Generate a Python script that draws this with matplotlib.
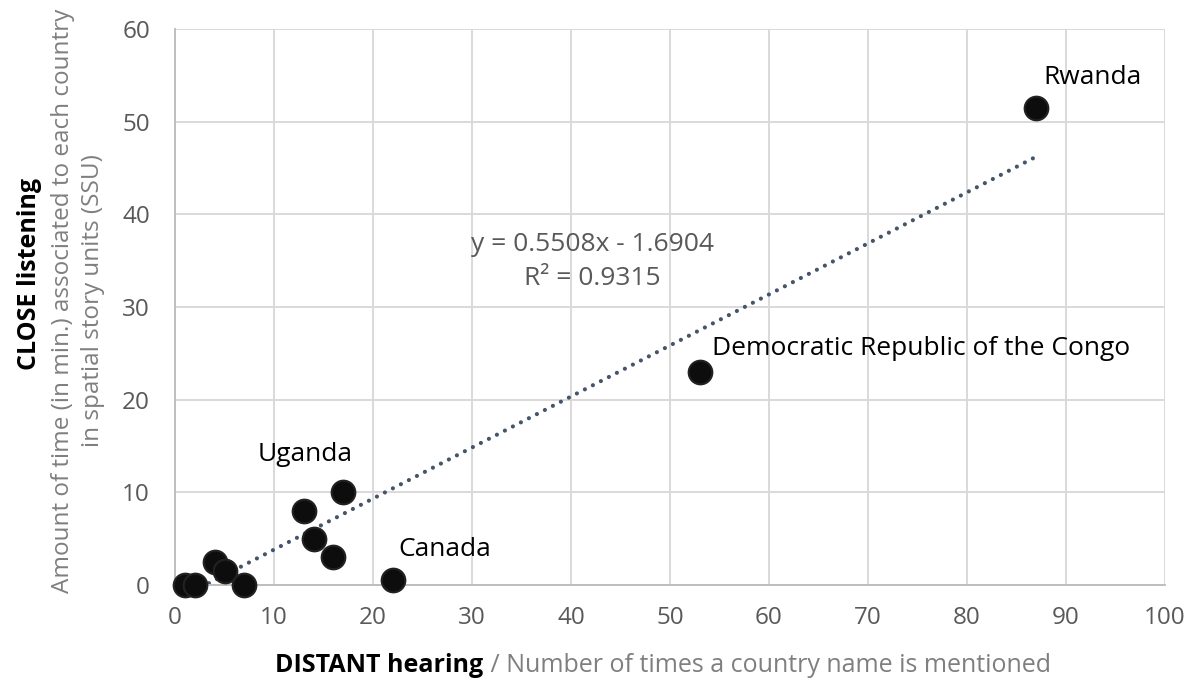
import matplotlib
matplotlib.use("Agg")
import matplotlib.pyplot as plt
import numpy as np

# ---- data ----
distant_hearing = [87, 53, 17, 13, 14, 16, 22, 4, 5, 7, 1, 2]
close_listening = [51.5, 23, 10, 8, 5, 3, 0.5, 2.5, 1.5, 0, 0, 0]

label_names = ["Rwanda", "Democratic Republic of the Congo", "Uganda", "Canada"]
label_x = [87, 53, 17, 22]
label_y = [51.5, 23, 10, 0.5]

trend_slope = 0.5508
trend_intercept = -1.6904
trend_r2 = 0.9315

x_ticks = list(range(0, 101, 10))
y_ticks = list(range(0, 61, 10))

# ---- figure ----
FONT = "Open Sans"
plt.rcParams['font.family'] = [FONT, 'DejaVu Sans']

fig = plt.figure(figsize=(11.85, 6.82), dpi=100)
ax = fig.add_axes([175/1185, 1-585/682, (1165-175)/1185, (585-29)/682])

ax.set_xlim(0, 100)
ax.set_ylim(0, 60)
ax.set_xticks(x_ticks)
ax.set_yticks(y_ticks)
ax.tick_params(length=0, labelsize=17.5, labelcolor='#595959')
ax.tick_params(axis='y', pad=18)
ax.tick_params(axis='x', pad=15)
ax.grid(True, color='#D9D9D9', linewidth=1.4, zorder=0)
ax.set_axisbelow(True)
for s in ['top', 'right']:
    ax.spines[s].set_visible(False)
for s in ['left', 'bottom']:
    ax.spines[s].set_color('#BFBFBF')
    ax.spines[s].set_linewidth(1.4)

# trendline
xs = np.array([min(distant_hearing), max(distant_hearing)], dtype=float)
ax.plot(xs, trend_slope*xs + trend_intercept, color='#44546A', linewidth=3.0,
        linestyle=(0, (0.01, 2.15)), dash_capstyle='round', zorder=2, clip_on=True)

# points
ax.scatter(distant_hearing, close_listening, s=290, color='#0D0D0D',
           edgecolors='#222222', linewidths=1.5, zorder=3, clip_on=False)

# point labels
offsets = {"Rwanda": (5, 22), "Democratic Republic of the Congo": (9, 17),
           "Uganda": (-62, 27), "Canada": (4, 22)}
for name, lx, ly in zip(label_names, label_x, label_y):
    ax.annotate(name, (lx, ly), xytext=offsets[name], textcoords='offset points',
                fontsize=19, color='#000000', ha='left', va='center')

# equation
ax.text(42.2, 34.9, f"y = {trend_slope}x - {abs(trend_intercept)}\nR² = {trend_r2}",
        fontsize=19, color='#595959', ha='center', va='center', linespacing=1.45)

# x label (bold + gray parts)
fig.canvas.draw()
r = fig.canvas.get_renderer()
tb = fig.text(0, 1-666/682, "DISTANT hearing", fontsize=18, fontweight='bold',
              color='#000000', ha='left', va='center')
tg = fig.text(0, 1-666/682, " / Number of times a country name is mentioned", fontsize=18,
              color='#7F7F7F', ha='left', va='center')
wb = tb.get_window_extent(r).width
wg = tg.get_window_extent(r).width
cx = 663
start = cx - (wb + wg)/2
tb.set_x(start/1185)
tg.set_x((start + wb)/1185)

# y label
fig.text(30/1185, 1-274/682, "CLOSE listening", fontsize=18, fontweight='bold',
         color='#000000', rotation=90, ha='center', va='center')
fig.text(78/1185, 1-301/682,
         "Amount of time (in min.) associated to each country\nin spatial story units (SSU)",
         fontsize=17.5, color='#7F7F7F', rotation=90, ha='center', va='center',
         multialignment='center', linespacing=1.3)

fig.savefig("out.png", dpi=100)
